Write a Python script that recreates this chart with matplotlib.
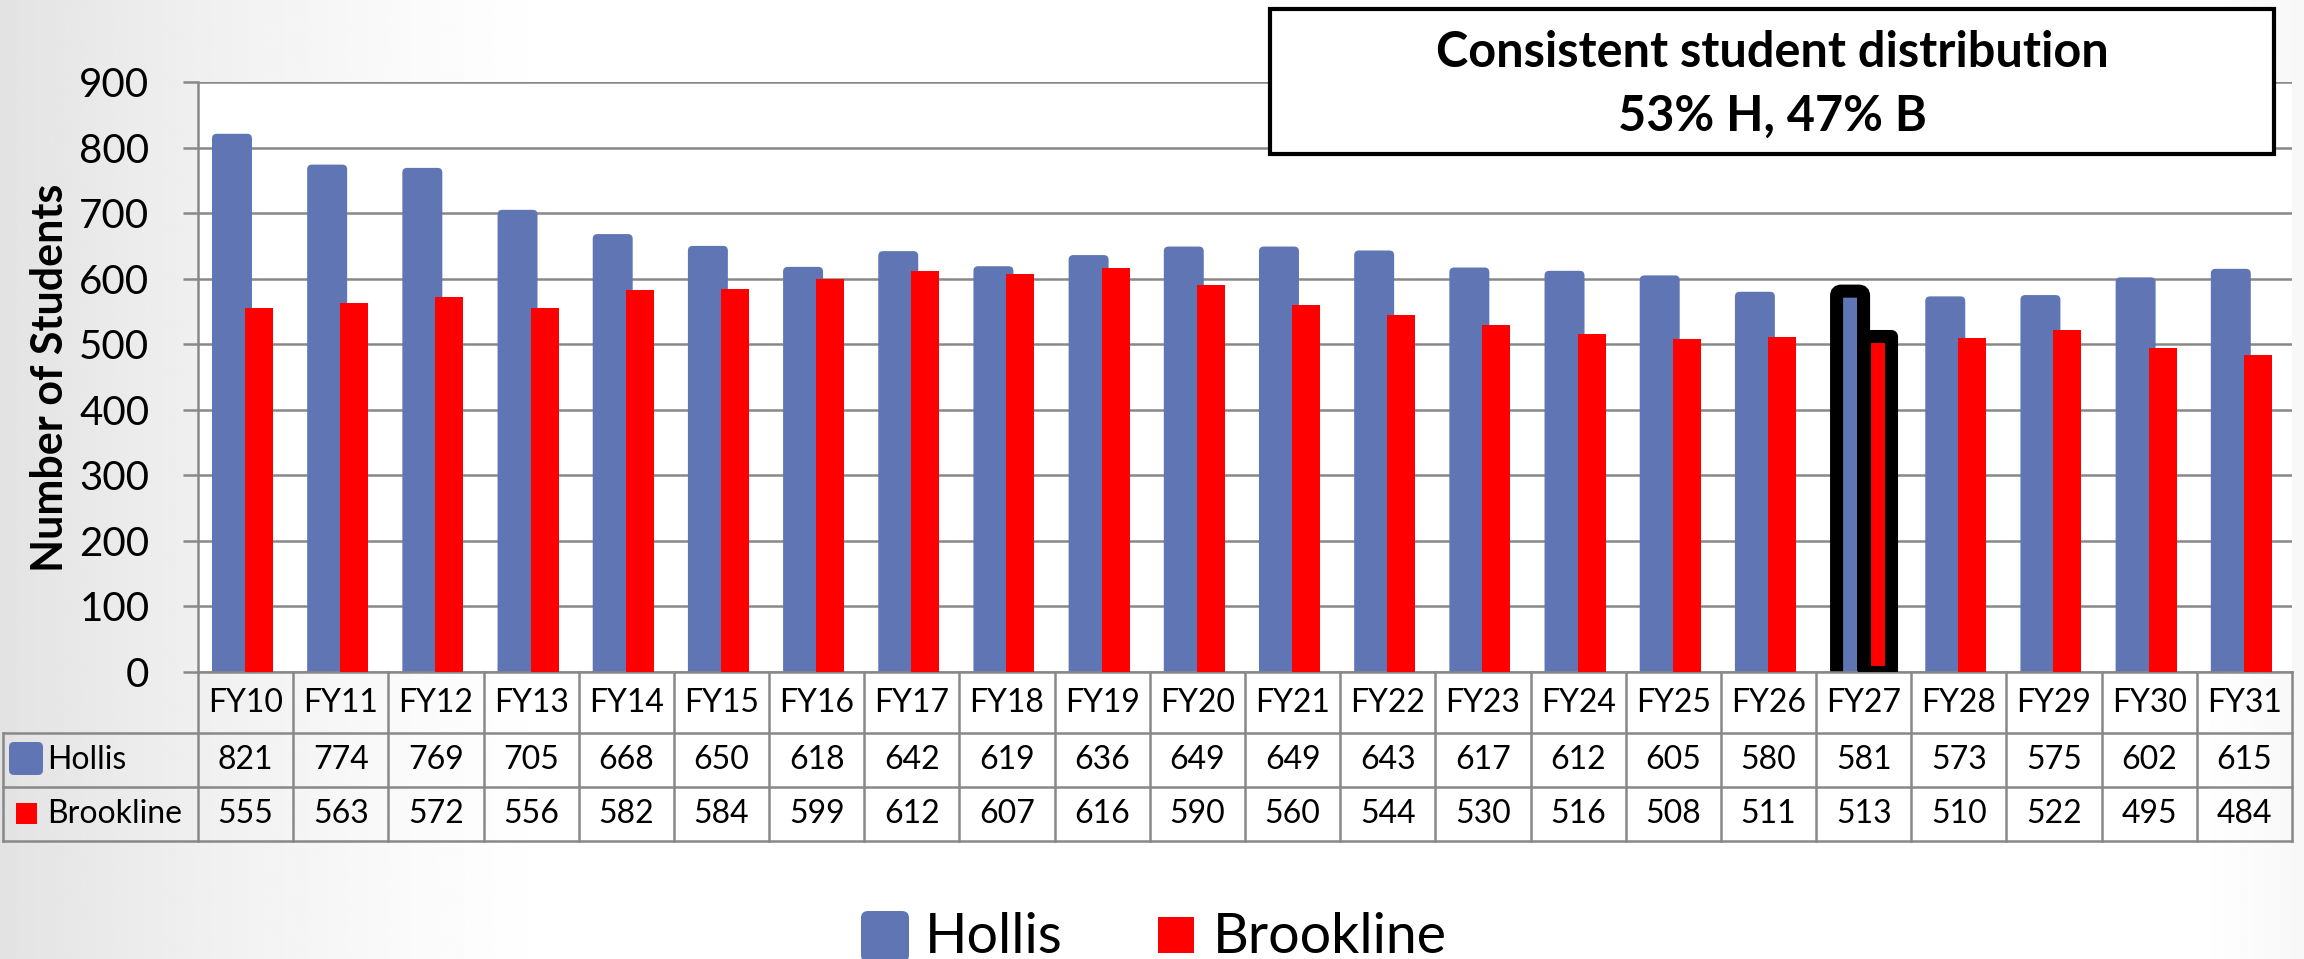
import numpy as np
import matplotlib
matplotlib.use('Agg')
import matplotlib.pyplot as plt
from matplotlib.patches import FancyBboxPatch, Rectangle

categories = ['FY10', 'FY11', 'FY12', 'FY13', 'FY14', 'FY15', 'FY16', 'FY17', 'FY18', 'FY19', 'FY20',
              'FY21', 'FY22', 'FY23', 'FY24', 'FY25', 'FY26', 'FY27', 'FY28', 'FY29', 'FY30', 'FY31']
hollis = [821, 774, 769, 705, 668, 650, 618, 642, 619, 636, 649, 649, 643, 617, 612, 605, 580, 581, 573, 575, 602, 615]
brookline = [555, 563, 572, 556, 582, 584, 599, 612, 607, 616, 590, 560, 544, 530, 516, 508, 511, 513, 510, 522, 495, 484]
series_names = ['Hollis', 'Brookline']
highlight = 'FY27'
yticks = [0, 100, 200, 300, 400, 500, 600, 700, 800, 900]
box_lines = ['Consistent student distribution', '53% H, 47% B']

BLUE = '#6076b4'
RED = '#ff0000'
GRID = '#888888'

plt.rcParams['font.family'] = ['Lato', 'DejaVu Sans']

W, H = 2304, 959
fig = plt.figure(figsize=(W / 100, H / 100), dpi=100)
inch = fig.dpi_scale_trans


def P(x, y):
    # pixel position (from top-left) -> inches for dpi_scale_trans
    return x / 100, (H - y) / 100


# soft grey vignette on the left of the slide
bg = fig.add_axes([0, 0, 1, 1], zorder=-10)
xs = np.linspace(0, W, 800)
shade = 1 - 0.11 * np.clip(1 - xs / 580, 0, 1) ** 1.4 - 0.03 * np.clip((xs - 2200) / 104, 0, 1)
bg.imshow(np.tile(shade, (20, 1)), cmap='gray', vmin=0, vmax=1, aspect='auto', extent=[0, 1, 0, 1])
bg.axis('off')

# plot area: x from 198 to 2292 px, y from 82 (900) to 672 (0)
X0, X1, Y0, Y1 = 198, 2292, 82, 672
ax = fig.add_axes([X0 / W, 1 - Y1 / H, (X1 - X0) / W, (Y1 - Y0) / H])
ax.set_facecolor('white')
n = len(categories)
col_px = (X1 - X0) / n
ax.set_xlim(0, n)
ax.set_ylim(0, 900)
ax.set_yticks(yticks)
ax.set_xticks([])
ax.tick_params(axis='y', direction='out', length=11, width=1.8, color=GRID, pad=24, labelsize=29)
ax.grid(axis='y', color=GRID, lw=1.8)
ax.set_axisbelow(True)
for s in ['top', 'right']:
    ax.spines[s].set_visible(False)
for s in ['left', 'bottom']:
    ax.spines[s].set_color(GRID)
    ax.spines[s].set_linewidth(1.8)

h_off, h_w = 0.357, 0.42
b_off, b_w = 0.641, 0.294
edge_lw = 9.4
shrink = 13 / col_px
for i, (hv, bv) in enumerate(zip(hollis, brookline)):
    hl = categories[i] == highlight
    w = h_w - shrink if hl else h_w
    p = FancyBboxPatch((i + h_off - w / 2, -10), w, hv + 10,
                       boxstyle='round,pad=0,rounding_size=0.05', mutation_aspect=146,
                       fc=BLUE, ec='black' if hl else 'none', lw=edge_lw if hl else 0, zorder=2)
    ax.add_patch(p)
    wb = h_w - shrink if hl else b_w
    ax.bar(i + b_off, bv, width=wb, color=RED, zorder=3,
           edgecolor='black' if hl else 'none', linewidth=edge_lw if hl else 0, joinstyle='round')

# data table under the chart
trans = ax.get_xaxis_transform()


def yf(p):
    return (Y1 - p) / (Y1 - Y0)


x_left = (3 - X0) / col_px
row_lines = [733, 787, 841]
for p in row_lines:
    ax.plot([x_left, n], [yf(p)] * 2, transform=trans, clip_on=False, color=GRID, lw=1.8)
for i in range(n + 1):
    ax.plot([i, i], [0, yf(841)], transform=trans, clip_on=False, color=GRID, lw=1.8)
ax.plot([x_left, x_left], [yf(733), yf(841)], transform=trans, clip_on=False, color=GRID, lw=1.8)

for i, c in enumerate(categories):
    ax.text(i + 0.5, yf(703), c, transform=trans, ha='center', va='center', fontsize=23)
    ax.text(i + 0.5, yf(760), str(hollis[i]), transform=trans, ha='center', va='center', fontsize=23)
    ax.text(i + 0.5, yf(814), str(brookline[i]), transform=trans, ha='center', va='center', fontsize=23)

# table row keys
fig.patches.append(FancyBboxPatch(P(9, 775), 34 / 100, 33 / 100, boxstyle='round,pad=0,rounding_size=0.05',
                                  fc=BLUE, ec='none', transform=inch, figure=fig))
fig.patches.append(Rectangle(P(16, 824), 21 / 100, 21 / 100, fc=RED, ec='none', transform=inch, figure=fig))
fig.text(*P(47, 760), series_names[0], transform=inch, ha='left', va='center', fontsize=23)
fig.text(*P(47, 814), series_names[1], transform=inch, ha='left', va='center', fontsize=23)

# y label
fig.text(*P(50, 378), 'Number of Students', transform=inch, rotation=90, ha='center', va='center',
         fontsize=31, fontweight='bold')

# annotation box
fig.patches.append(Rectangle(P(1270, 154), 1004 / 100, 145 / 100, fc='white', ec='black', lw=3,
                             transform=inch, figure=fig, zorder=5))
fig.text(*P(1772, 67), box_lines[0], transform=inch, ha='center', va='baseline', fontsize=35,
         fontweight='bold', zorder=6)
fig.text(*P(1772, 131), box_lines[1], transform=inch, ha='center', va='baseline', fontsize=35,
         fontweight='bold', zorder=6)

# legend at the bottom
fig.patches.append(FancyBboxPatch(P(861, 962), 48 / 100, 51 / 100, boxstyle='round,pad=0,rounding_size=0.07',
                                  fc=BLUE, ec='none', transform=inch, figure=fig))
fig.patches.append(Rectangle(P(1158, 953), 36 / 100, 36 / 100, fc=RED, ec='none', transform=inch, figure=fig))
fig.text(*P(925, 953), series_names[0], transform=inch, ha='left', va='baseline', fontsize=40)
fig.text(*P(1213, 953), series_names[1], transform=inch, ha='left', va='baseline', fontsize=40)

fig.savefig('out.png', dpi=100)
